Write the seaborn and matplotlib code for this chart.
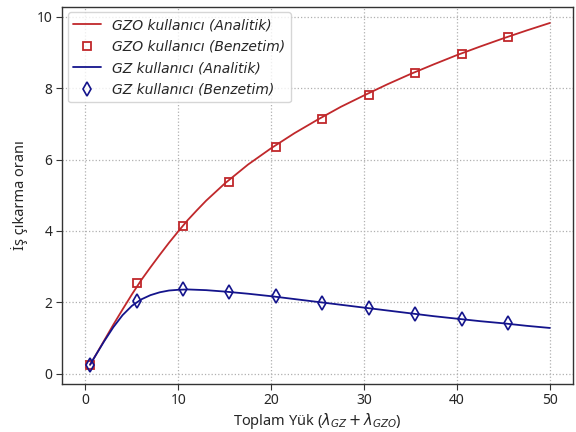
import matplotlib
matplotlib.use("Agg")
import matplotlib.pyplot as plt
import seaborn as sns
import pandas as pd

# analytic curves
x_line = [0.5, 1, 2, 3, 4, 5, 6, 7, 8, 9, 10, 11, 12, 13, 15, 17.5, 20, 22.5, 25, 27.5,
          30, 32.5, 35, 37.5, 40, 42.5, 45, 47.5, 50]
gzo_line = [0.25, 0.47, 0.92, 1.37, 1.8, 2.22, 2.62, 2.98, 3.33, 3.67, 3.99, 4.3, 4.58, 4.85,
            5.33, 5.86, 6.32, 6.74, 7.12, 7.48, 7.8, 8.11, 8.4, 8.67, 8.93, 9.17, 9.4, 9.62, 9.83]
gz_line = [0.25, 0.47, 0.9, 1.3, 1.64, 1.9, 2.08, 2.2, 2.28, 2.33, 2.35, 2.36, 2.35, 2.34,
           2.3, 2.24, 2.17, 2.09, 2.01, 1.93, 1.85, 1.77, 1.69, 1.61, 1.54, 1.47, 1.41, 1.34, 1.28]

# simulation points
x_sim = [0.5, 5.5, 10.5, 15.5, 20.5, 25.5, 30.5, 35.5, 40.5, 45.5]
gzo_sim = [0.25, 2.55, 4.15, 5.36, 6.36, 7.15, 7.82, 8.44, 8.95, 9.44]
gz_sim = [0.25, 2.03, 2.36, 2.3, 2.17, 1.99, 1.83, 1.66, 1.53, 1.42]

labels = ["GZO kullanıcı (Analitik)", "GZO kullanıcı (Benzetim)",
          "GZ kullanıcı (Analitik)", "GZ kullanıcı (Benzetim)"]

sns.set_style("white")
plt.rcParams['font.family'] = ['Noto Sans', 'DejaVu Sans']
plt.rcParams['mathtext.fontset'] = 'dejavusans'

red = "#c0282b"
blue = "#14148c"

fig = plt.figure(figsize=(5.76, 4.32), dpi=100)
ax = fig.add_axes([0.108, 0.112, 0.887, 0.872])

df_line = pd.DataFrame({"x": x_line, "gzo": gzo_line, "gz": gz_line})
df_sim = pd.DataFrame({"x": x_sim, "gzo": gzo_sim, "gz": gz_sim})

sns.lineplot(data=df_line, x="x", y="gzo", ax=ax, color=red, lw=1.3, label=labels[0])
ax.plot(df_sim["x"], df_sim["gzo"], ls="none", marker="s", ms=6, mfc="none",
        mec=red, mew=1.3, label=labels[1])
sns.lineplot(data=df_line, x="x", y="gz", ax=ax, color=blue, lw=1.3, label=labels[2])
ax.plot(df_sim["x"], df_sim["gz"], ls="none", marker="d", ms=7.5, mfc="none",
        mec=blue, mew=1.2, label=labels[3])

ax.set_xlim(-2.5, 52.5)
ax.set_ylim(-0.28, 10.28)
ax.set_xticks([0, 10, 20, 30, 40, 50])
ax.set_yticks([0, 2, 4, 6, 8, 10])
ax.grid(True, ls=":", color="#b0b0b0", lw=0.9)
for s in ax.spines.values():
    s.set_color("#333333")
    s.set_linewidth(1.0)
ax.tick_params(axis="both", which="both", length=4, width=0.8, color="#333333",
               labelsize=10, direction="out", left=True, bottom=True, pad=3)

ax.set_xlabel(r"Toplam Yük ($\lambda_{GZ} + \lambda_{GZO}$)", fontsize=10.5, labelpad=2)
ax.set_ylabel("İş çıkarma oranı", fontsize=10.5, labelpad=6)

leg = ax.legend(loc="upper left",
                prop={"family": "DejaVu Sans", "style": "italic", "size": 10},
                frameon=True, framealpha=0.8, edgecolor="#cccccc",
                handlelength=2.0, borderaxespad=0.4, labelspacing=0.55)

fig.savefig("out.png", dpi=100)
